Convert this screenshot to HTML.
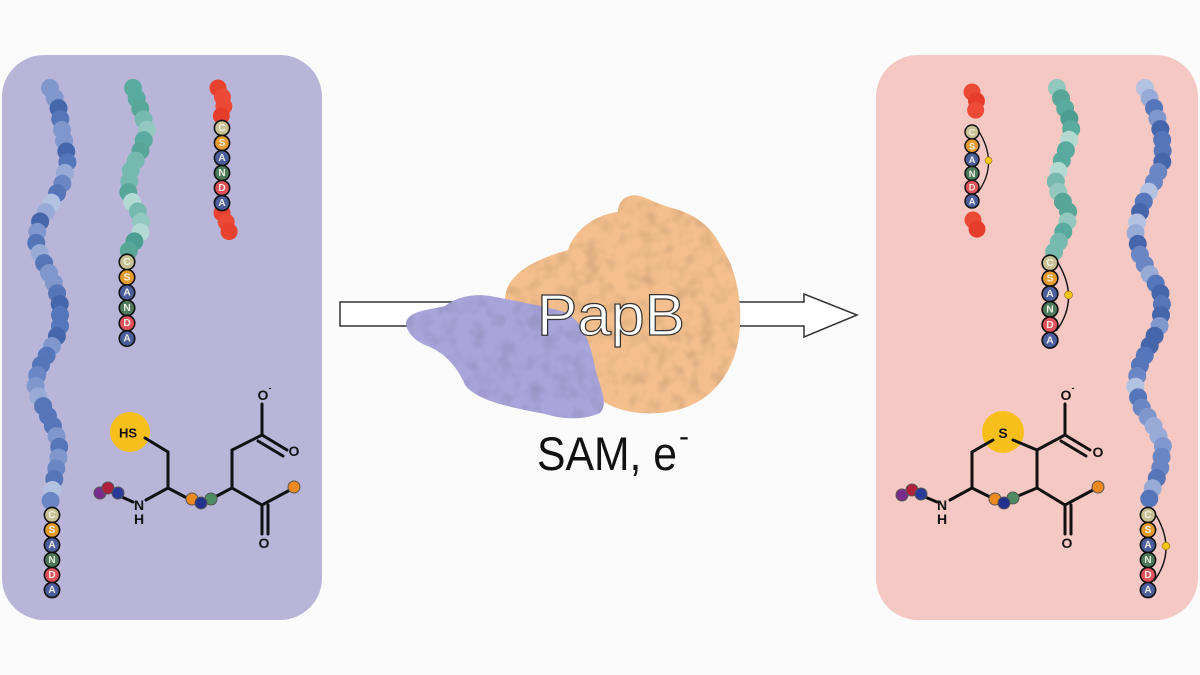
<!DOCTYPE html>
<html><head><meta charset="utf-8"><style>
html,body{margin:0;padding:0;background:#fbfbfb;}
svg{display:block;}
.lt{font-family:"Liberation Sans",sans-serif;font-weight:bold;font-size:10px;text-anchor:middle;dominant-baseline:central;fill:#f2f0e6;}
.at{font-family:"Liberation Sans",sans-serif;font-weight:bold;text-anchor:middle;dominant-baseline:central;fill:#111;}
</style></head><body>
<svg id="s" width="1200" height="675" viewBox="0 0 1200 675" xmlns="http://www.w3.org/2000/svg">
<defs>
<filter id="tex" x="0" y="0" width="1" height="1">
<feTurbulence type="fractalNoise" baseFrequency="0.07" numOctaves="2" seed="4" result="n"/>
<feColorMatrix in="n" type="matrix" values="0 0 0 0 0  0 0 0 0 0  0 0 0 0 0  1.3 0 0 0 -0.55" result="a"/>
<feComposite in="a" in2="SourceAlpha" operator="in"/>
</filter>
<g id="stk">
<circle cx="0" cy="0" r="7.6" fill="#c8c194" stroke="#111" stroke-width="1.6"/>
<circle cx="0" cy="15" r="7.6" fill="#e59c2c" stroke="#111" stroke-width="1.6"/>
<circle cx="0" cy="30" r="7.6" fill="#4b5e9e" stroke="#111" stroke-width="1.6"/>
<circle cx="0" cy="45" r="7.6" fill="#4d7a58" stroke="#111" stroke-width="1.6"/>
<circle cx="0" cy="60" r="7.6" fill="#e2525c" stroke="#111" stroke-width="1.6"/>
<circle cx="0" cy="75" r="7.6" fill="#4b5e9e" stroke="#111" stroke-width="1.6"/>
<text class="lt" x="0" y="0.5">C</text><text class="lt" x="0" y="15.5">S</text><text class="lt" x="0" y="30.5">A</text><text class="lt" x="0" y="45.5">N</text><text class="lt" x="0" y="60.5">D</text><text class="lt" x="0" y="75.5">A</text>
</g>
<g id="arc">
<path d="M6,-3 Q30,34 6,66" fill="none" stroke="#111" stroke-width="1.4"/>
<circle cx="18" cy="31" r="3.8" fill="#f5c518" stroke="#8a6a00" stroke-width="0.6"/>
</g>
</defs>
<rect x="0" y="0" width="1200" height="675" fill="#fbfbfb"/>
<rect x="2" y="55" width="320" height="565" rx="42" fill="#b8b5d9"/>
<rect x="876" y="55" width="322" height="565" rx="42" fill="#f6c8c3"/>
<g id="chains"></g>

<use href="#stk" transform="translate(52,515)"/>
<use href="#stk" transform="translate(127,262) scale(1.02)"/>
<use href="#stk" transform="translate(222,128)"/>
<g transform="translate(972,132) scale(0.92)"><use href="#arc"/><use href="#stk"/></g>
<g transform="translate(1050,263) scale(1.03)"><use href="#arc"/><use href="#stk"/></g>
<g transform="translate(1148,515)"><use href="#arc"/><use href="#stk"/></g>

<g stroke="#111" stroke-width="3" fill="none" stroke-linecap="round">
<circle cx="130" cy="432" r="20" fill="#f7bf1c" stroke="none"/>
<path d="M145,438 L168,452 L168,488 L146,500"/>
<path d="M168,488 L187,498"/>
<path d="M215,497 L232,488 L232,450 L262,435 L262,404"/>
<path d="M262,435 L287,450 M258,441 L283,456"/>
<path d="M232,488 L262,505 L290,490"/>
<path d="M262,505 L262,534 M268,505 L268,534"/>
<path d="M122,497 L133,502"/>
</g>
<text class="at" x="128" y="433" font-size="13">HS</text>
<text class="at" x="139" y="505" font-size="14">N</text>
<text class="at" x="139" y="519" font-size="14">H</text>
<text class="at" x="263" y="395" font-size="14">O</text>
<text class="at" x="270" y="388" font-size="9">-</text>
<text class="at" x="294" y="451" font-size="14">O</text>
<text class="at" x="264" y="543" font-size="14">O</text>
<g stroke="#555" stroke-width="1">
<circle cx="100" cy="493" r="6" fill="#7a2c8c"/><circle cx="108" cy="488" r="6" fill="#b0203a"/><circle cx="118" cy="493" r="6" fill="#2a3a9a"/>
<circle cx="192" cy="499" r="6" fill="#f08a1e"/><circle cx="211" cy="499" r="6" fill="#4e8a62"/><circle cx="201" cy="503" r="6" fill="#22318f"/>
<circle cx="294" cy="487" r="6" fill="#f08a1e"/>
</g>

<g stroke="#111" stroke-width="3" fill="none" stroke-linecap="round">
<circle cx="1003" cy="432" r="21" fill="#f7bf1c" stroke="none"/>
<path d="M993,440 L972,452 L972,488 L950,500"/>
<path d="M972,488 L990,497"/>
<path d="M1018,496 L1037,488 L1037,450 L1013,440"/>
<path d="M1037,450 L1065,435 L1065,404"/>
<path d="M1065,435 L1090,450 M1061,441 L1086,456"/>
<path d="M1037,488 L1065,505 L1093,490"/>
<path d="M1065,505 L1065,534 M1071,505 L1071,534"/>
<path d="M925,497 L937,502"/>
</g>
<text class="at" x="1003" y="433" font-size="14">S</text>
<text class="at" x="942" y="505" font-size="14">N</text>
<text class="at" x="942" y="519" font-size="14">H</text>
<text class="at" x="1066" y="395" font-size="14">O</text>
<text class="at" x="1073" y="388" font-size="9">-</text>
<text class="at" x="1098" y="452" font-size="14">O</text>
<text class="at" x="1067" y="543" font-size="14">O</text>
<g stroke="#555" stroke-width="1">
<circle cx="902" cy="495" r="6" fill="#7a2c8c"/><circle cx="912" cy="490" r="6" fill="#b0203a"/><circle cx="921" cy="494" r="6" fill="#2a3a9a"/>
<circle cx="995" cy="499" r="6" fill="#f08a1e"/><circle cx="1013" cy="498" r="6" fill="#4e8a62"/><circle cx="1004" cy="503" r="6" fill="#22318f"/>
<circle cx="1098" cy="487" r="6" fill="#f08a1e"/>
</g>

<path d="M340,302 L804,302 L804,294 L857,315 L804,337 L804,326 L340,326 Z" fill="#fff" stroke="#333" stroke-width="1.5"/>

<path d="M505,300 C505,272 540,258 568,250 C575,228 598,214 618,212 C618,200 628,193 640,196 C652,200 660,205 672,208 C698,215 712,228 722,248 C742,278 746,330 732,362 C716,400 682,416 640,413 C606,410 586,392 576,372 C548,345 505,330 505,300 Z" fill="#f4bf8d"/>
<path d="M505,300 C505,272 540,258 568,250 C575,228 598,214 618,212 C618,200 628,193 640,196 C652,200 660,205 672,208 C698,215 712,228 722,248 C742,278 746,330 732,362 C716,400 682,416 640,413 C606,410 586,392 576,372 C548,345 505,330 505,300 Z" fill="#000" filter="url(#tex)" opacity="0.18"/>
<path d="M406,322 C410,310 430,310 445,306 C455,298 472,293 490,296 C510,300 540,305 565,312 C585,322 592,350 596,372 C602,392 608,404 600,413 C585,420 565,420 545,414 C515,408 478,402 465,385 C458,368 445,352 425,345 C414,340 406,332 406,322 Z" fill="#a9a5db"/>
<path d="M406,322 C410,310 430,310 445,306 C455,298 472,293 490,296 C510,300 540,305 565,312 C585,322 592,350 596,372 C602,392 608,404 600,413 C585,420 565,420 545,414 C515,408 478,402 465,385 C458,368 445,352 425,345 C414,340 406,332 406,322 Z" fill="#000" filter="url(#tex)" opacity="0.16"/>

<text x="537" y="335" font-family="Liberation Sans, sans-serif" font-size="58" fill="#fff" stroke="#333" stroke-width="1.2" textLength="148" lengthAdjust="spacingAndGlyphs">PapB</text>
<text x="537" y="470" font-family="Liberation Sans, sans-serif" font-size="47" fill="#111" textLength="140" lengthAdjust="spacingAndGlyphs">SAM, e</text>
<text x="679" y="446" font-family="Liberation Sans, sans-serif" font-size="30" fill="#111">-</text>
</svg>
<script>
(function(){
var g=document.getElementById('chains');var NS='http://www.w3.org/2000/svg';
function chain(p,cols,r,step,seed){
 var L=[0];for(var i=1;i<p.length;i++){L.push(L[i-1]+Math.hypot(p[i][0]-p[i-1][0],p[i][1]-p[i-1][1]));}
 var tot=L[L.length-1],s=seed;
 for(var d=0;d<=tot+0.1;d+=step){
  var j=1;while(j<L.length-1&&L[j]<d)j++;
  var t=(d-L[j-1])/(L[j]-L[j-1]||1);
  var x=p[j-1][0]+t*(p[j][0]-p[j-1][0]),y=p[j-1][1]+t*(p[j][1]-p[j-1][1]);
  s=(s*9301+49297)%233280;var c=cols[Math.floor(s/233280*cols.length)];
  var e=document.createElementNS(NS,'circle');e.setAttribute('cx',x);e.setAttribute('cy',y);e.setAttribute('r',r);e.setAttribute('fill',c);g.appendChild(e);
 }
}
var blue=['#4666ab','#5575b8','#6a86c4','#7f97cc','#98abd6','#b4c2e2','#5676bb'];
var teal=['#4a9f92','#5aab9f','#76baaf','#93c8bf','#b2d9d2','#58a698'];
var red=['#e8412f','#ec4a36','#e53c2b'];
chain([[50,88],[58,105],[62,130],[68,160],[62,185],[50,205],[38,225],[36,245],[45,265],[55,285],[60,305],[60,330],[50,350],[38,370],[35,390],[45,410],[55,430],[60,450],[55,475],[50,504]],blue,9,11,7);
chain([[133,88],[140,108],[147,130],[140,152],[130,172],[128,195],[140,215],[142,230],[130,248],[127,255]],teal,9,11,3);
chain([[218,88],[225,102],[221,117]],red,8.5,10,1);
chain([[222,213],[228,226],[230,236]],red,8.5,10,2);
chain([[972,92],[978,104],[973,117]],red,8.5,10,5);
chain([[973,220],[980,236]],red,8.5,10,6);
chain([[1057,88],[1065,108],[1072,125],[1068,145],[1060,165],[1055,185],[1062,200],[1070,215],[1062,235],[1055,250],[1052,256]],teal,9,11,11);
chain([[1145,88],[1155,110],[1162,135],[1163,160],[1155,180],[1142,205],[1135,230],[1140,255],[1150,275],[1160,290],[1162,305],[1160,325],[1150,345],[1140,365],[1135,385],[1140,405],[1153,425],[1163,445],[1160,470],[1150,495],[1148,505]],blue,9,11,13);
})();
</script>
</body></html>
